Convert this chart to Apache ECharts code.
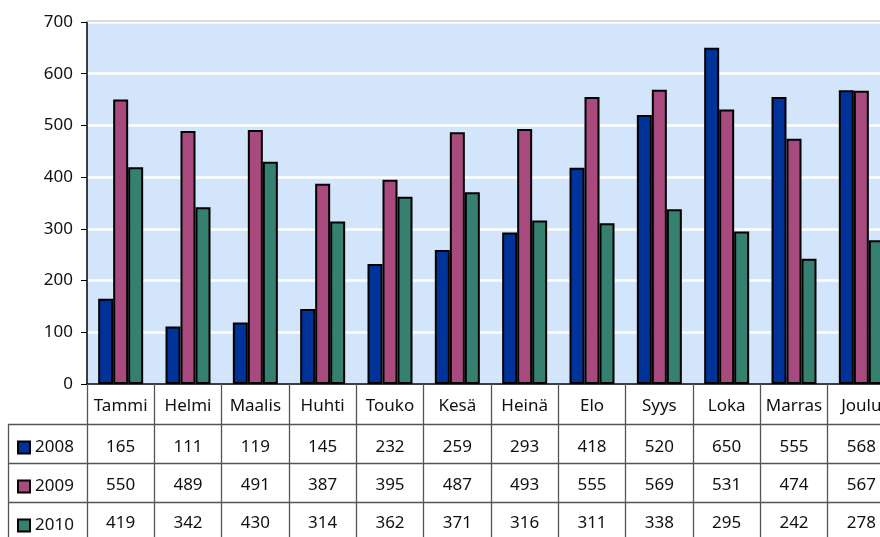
<!DOCTYPE html>
<html>
<head>
<meta charset="utf-8">
<script src="https://cdn.jsdelivr.net/npm/echarts@6/dist/echarts.min.js"></script>
<style>
html, body { margin: 0; padding: 0; background: #fff; }
#chart { width: 880px; height: 537px; }
</style>
</head>
<body>
<div id="chart"></div>
<script>
var myChart = echarts.init(document.getElementById('chart'));

// kuukaudet ja vuosien arvot
var months = ['Tammi', 'Helmi', 'Maalis', 'Huhti', 'Touko', 'Kesä', 'Heinä', 'Elo', 'Syys', 'Loka', 'Marras', 'Joulu'];
var years = ['2008', '2009', '2010'];
var v2008 = [165, 111, 119, 145, 232, 259, 293, 418, 520, 650, 555, 568];
var v2009 = [550, 489, 491, 387, 395, 487, 493, 555, 569, 531, 474, 567];
var v2010 = [419, 342, 430, 314, 362, 371, 316, 311, 338, 295, 242, 278];
var yMin = 0, yMax = 700, yStep = 100;

var colors = ['#003399', '#A94A7F', '#35806F'];
var seriesValues = [v2008, v2009, v2010];
var font = 'Noto Sans';
var lineColor = '#555';

// taulukon rivit: jokainen rivi on oma x-akseli
var rowMargins = [55, 93, 131];
var xAxes = [{
    type: 'category',
    data: months,
    position: 'bottom',
    axisLine: { lineStyle: { color: '#000', width: 1.5 } },
    axisTick: { show: true, length: 153, lineStyle: { color: lineColor, width: 1.3 } },
    axisLabel: { margin: 14, fontSize: 17, color: '#111', fontFamily: font, interval: 0 }
}];
seriesValues.forEach(function (vals, i) {
    xAxes.push({
        type: 'category',
        data: vals.map(String),
        position: 'bottom',
        offset: 0,
        axisLine: { show: false },
        axisTick: { show: false },
        splitLine: { show: false },
        axisLabel: { margin: rowMargins[i], fontSize: 17, color: '#111', fontFamily: font, interval: 0 }
    });
});

var series = years.map(function (y, i) {
    return {
        name: y,
        type: 'bar',
        data: seriesValues[i],
        barWidth: 15,
        barGap: '0%',
        itemStyle: { color: colors[i], borderColor: '#000', borderWidth: 2 }
    };
});

// yksi selite jokaiselle taulukon riville
var legendTops = [434, 473, 512];
var legends = years.map(function (y, i) {
    return {
        data: [y],
        left: 12, top: legendTops[i],
        itemWidth: 12, itemHeight: 12,
        icon: 'rect',
        selectedMode: false,
        textStyle: { fontSize: 17, color: '#111', fontFamily: font }
    };
});

function hline(y, x1, x2) {
    return { type: 'line', shape: { x1: x1, y1: y, x2: x2, y2: y }, style: { stroke: lineColor, lineWidth: 1.3 }, z: 10 };
}

option = {
    backgroundColor: '#fff',
    animation: false,
    grid: {
        left: 87, top: 22, width: 808, height: 362,
        show: true, backgroundColor: '#D3E5FB', borderWidth: 0,
        outerBoundsMode: 'none', containLabel: false
    },
    legend: legends,
    xAxis: xAxes,
    yAxis: {
        type: 'value',
        min: yMin, max: yMax, interval: yStep,
        axisLine: { show: true, lineStyle: { color: '#000', width: 1.5 } },
        axisTick: { show: true, length: 6, lineStyle: { color: '#000' } },
        axisLabel: { margin: 14, fontSize: 17, color: '#111', fontFamily: font },
        splitLine: { lineStyle: { color: '#fff', width: 2.5 } }
    },
    graphic: [
        { type: 'line', shape: { x1: 87, y1: 21, x2: 880, y2: 21 }, style: { stroke: '#ddd', lineWidth: 2 }, z: 10 },
        hline(424.5, 8, 880),
        hline(463.5, 8, 880),
        hline(502.5, 8, 880),
        { type: 'line', shape: { x1: 8.5, y1: 424, x2: 8.5, y2: 537 }, style: { stroke: lineColor, lineWidth: 1.3 }, z: 10 }
    ],
    series: series
};

if (option && typeof option === "object") {
    myChart.setOption(option, true);
}
</script>
</body>
</html>
